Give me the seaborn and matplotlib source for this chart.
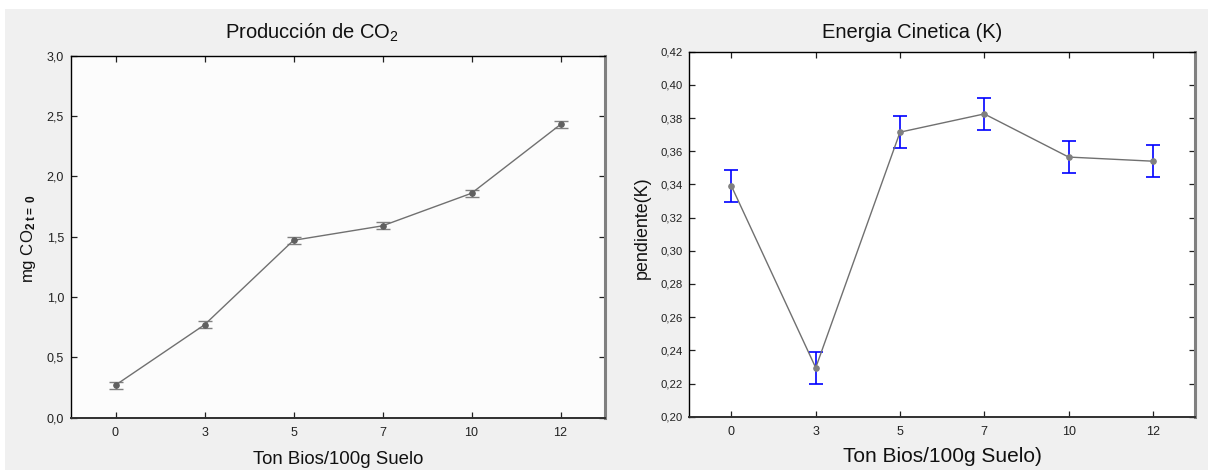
import matplotlib
matplotlib.use("Agg")
import matplotlib.pyplot as plt
import matplotlib.patches as mpatches
from matplotlib.ticker import FuncFormatter, MultipleLocator
import seaborn as sns
import numpy as np
import pandas as pd

# ---- data ----
dose_labels = ["0", "3", "5", "7", "10", "12"]
co2_mean = [0.27, 0.77, 1.47, 1.59, 1.86, 2.43]
co2_err = [0.03, 0.03, 0.03, 0.03, 0.03, 0.03]
k_mean = [0.339, 0.2295, 0.3715, 0.3825, 0.3565, 0.354]
k_err = [0.0095, 0.0095, 0.0095, 0.0095, 0.0095, 0.0095]

sns.set_style("ticks")
plt.rcParams['font.family'] = ['Liberation Sans', 'DejaVu Sans']
plt.rcParams['mathtext.fontset'] = 'custom'
plt.rcParams['mathtext.rm'] = 'Liberation Sans'
plt.rcParams['mathtext.it'] = 'Liberation Sans:italic'
plt.rcParams['mathtext.bf'] = 'Liberation Sans:bold'

W, H = 1208, 470
fig = plt.figure(figsize=(W / 100, H / 100), dpi=100, facecolor='white')
fig.patches.append(mpatches.Rectangle((5 / W, 0), 1 - 5 / W, (H - 9) / H,
                                      transform=fig.transFigure, facecolor='#f0f0f0',
                                      edgecolor='none', zorder=-10))

def fr(x0, y_top, x1, y_bot):
    return [x0 / W, (H - y_bot) / H, (x1 - x0) / W, (y_bot - y_top) / H]

ax1 = fig.add_axes(fr(71, 55.7, 605, 417.7))
ax2 = fig.add_axes(fr(689.3, 51.7, 1195, 416.7))

idx = np.arange(len(dose_labels))
df1 = pd.DataFrame({"x": idx, "y": co2_mean})
df2 = pd.DataFrame({"x": idx, "y": k_mean})

def style_axes(ax, face):
    ax.set_facecolor(face)
    ax.spines['left'].set_color('black'); ax.spines['left'].set_linewidth(1.0)
    ax.spines['top'].set_color('black'); ax.spines['top'].set_linewidth(1.0)
    ax.spines['right'].set_color('#808080'); ax.spines['right'].set_linewidth(2.2)
    ax.spines['bottom'].set_color('#303030'); ax.spines['bottom'].set_linewidth(1.4)
    for s in ax.spines.values():
        s.set_visible(True)
    ax.tick_params(direction='in', top=True, right=True, length=4, width=0.9,
                   color='#202020', labelsize=9, labelcolor='#222222')
    ax.tick_params(axis='x', pad=7)
    ax.tick_params(axis='y', pad=5)
    ax.set_xlim(-0.5, 5.5)
    ax.set_xticks(idx)
    ax.set_xticklabels(dose_labels)

# ---- left panel ----
style_axes(ax1, '#fcfcfc')
ax1.errorbar(idx, co2_mean, yerr=co2_err, fmt='none', ecolor='#808080',
             elinewidth=1.0, capsize=5, capthick=1.0, zorder=2)
sns.lineplot(data=df1, x="x", y="y", ax=ax1, color='#707070', linewidth=1.0,
             marker='o', markersize=4, markerfacecolor='#606060',
             markeredgecolor='#606060', zorder=3)
ax1.set_ylim(0, 3.0)
ax1.yaxis.set_major_locator(MultipleLocator(0.5))
ax1.yaxis.set_major_formatter(FuncFormatter(lambda v, p: f"{v:.1f}".replace('.', ',')))
ax1.set_xlabel("Ton Bios/100g Suelo", fontsize=13.4, color='#111111', va='center')
ax1.xaxis.set_label_coords(0.5, -(459 - 417.7) / 362)
ax1.set_ylabel(r"mg CO$_{\mathbf{2\ t=\ 0}}$", fontsize=12.1, color='#111111', va='center')
ax1.yaxis.set_label_coords((28 - 71) / 534, (417.7 - 238) / 362)

# ---- right panel ----
style_axes(ax2, 'white')
ax2.errorbar(idx, k_mean, yerr=k_err, fmt='none', ecolor='#0000ff',
             elinewidth=1.2, capsize=5, capthick=1.2, zorder=2)
sns.lineplot(data=df2, x="x", y="y", ax=ax2, color='#707070', linewidth=1.0,
             marker='o', markersize=4, markerfacecolor='#808080',
             markeredgecolor='#808080', zorder=3)
ax2.set_ylim(0.20, 0.42)
ax2.yaxis.set_major_locator(MultipleLocator(0.02))
ax2.yaxis.set_major_formatter(FuncFormatter(lambda v, p: f"{v:.2f}".replace('.', ',')))
ax2.tick_params(axis='y', labelsize=8.2)
ax2.set_xlabel("Ton Bios/100g Suelo)", fontsize=15, color='#111111', va='center')
ax2.xaxis.set_label_coords(0.5, -(457 - 416.7) / 365)
ax2.set_ylabel("pendiente(K)", fontsize=11.2 * 1.15, color='#111111', va='center')
ax2.yaxis.set_label_coords((642 - 689.3) / 505.7, (416.7 - 228) / 365)

# ---- titles ----
fig.text(312 / W, (H - 33) / H, r"Producción de CO$_2$", ha='center', va='center',
         fontsize=14.5, color='#111111')
fig.text(912 / W, (H - 33) / H, "Energia Cinetica (K)", ha='center', va='center',
         fontsize=14.5, color='#111111')

fig.savefig("out.png", dpi=100, facecolor=fig.get_facecolor())
